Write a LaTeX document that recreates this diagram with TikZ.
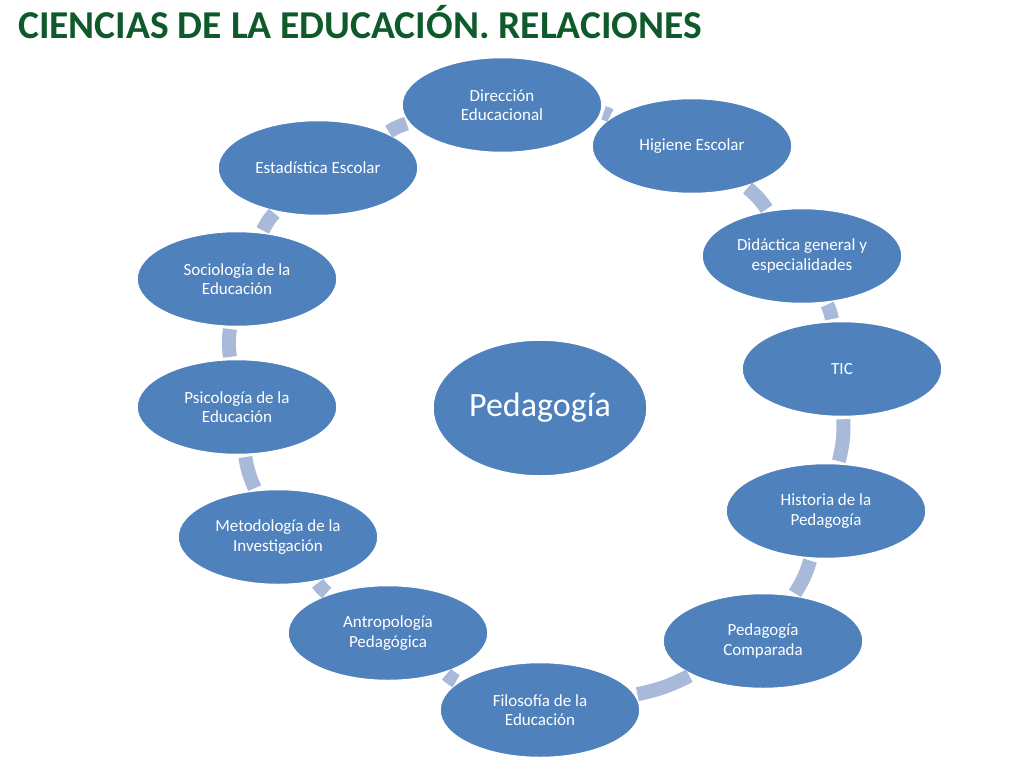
\documentclass[tikz,border=0pt]{standalone}
\usepackage{fontspec}
\setmainfont{Carlito}
\usetikzlibrary{shapes.geometric}
\definecolor{ellfill}{HTML}{4F81BD}
\definecolor{connc}{HTML}{A9B9D9}
\definecolor{titlec}{HTML}{0E5A2B}
\begin{document}
\begin{tikzpicture}[x=1pt,y=-1pt,
  item/.style={ellipse,fill=ellfill,draw=white,line width=1.5pt,minimum width=200pt,minimum height=95pt,inner sep=0pt,align=center,text=white,font=\fontsize{17}{19.5}\selectfont},
  conn/.style={draw=connc,line width=14pt,shorten >=2pt,shorten <=2pt}]
\useasboundingbox (0,0) rectangle (1024,768);
\node[anchor=base west,text=titlec,font=\fontsize{39.5}{44}\selectfont\bfseries,inner sep=0pt] (title) at (18,38) {CIENCIAS DE LA EDUCACIÓN. RELACIONES};
\node[item,minimum width=214pt,minimum height=136pt,font=\fontsize{34}{40}\selectfont] (ped) at (540,408) {Pedagogía};
\node[item] (n1) at (502,105) {Dirección\\Educacional};
\node[item] (n2) at (692,146) {Higiene Escolar};
\node[item] (n3) at (802,256) {Didáctica general y\\especialidades};
\node[item] (n4) at (842,369) {TIC};
\node[item] (n5) at (826,511) {Historia de la\\Pedagogía};
\node[item] (n6) at (763,641) {Pedagogía\\Comparada};
\node[item] (n7) at (540,710) {Filosofía de la\\Educación};
\node[item] (n8) at (388,633) {Antropología\\Pedagógica};
\node[item] (n9) at (278,537) {Metodología de la\\Investigación};
\node[item] (n10) at (237,407) {Psicología de la\\Educación};
\node[item] (n11) at (237,279) {Sociología de la\\Educación};
\node[item] (n12) at (318,168) {Estadística Escolar};
\foreach \a/\b in {n1/n2,n2/n3,n3/n4,n4/n5,n5/n6,n6/n7,n7/n8,n8/n9,n9/n10,n10/n11,n11/n12,n12/n1}
  \draw[conn] (\a) to[bend left=8] (\b);
\end{tikzpicture}
\end{document}
